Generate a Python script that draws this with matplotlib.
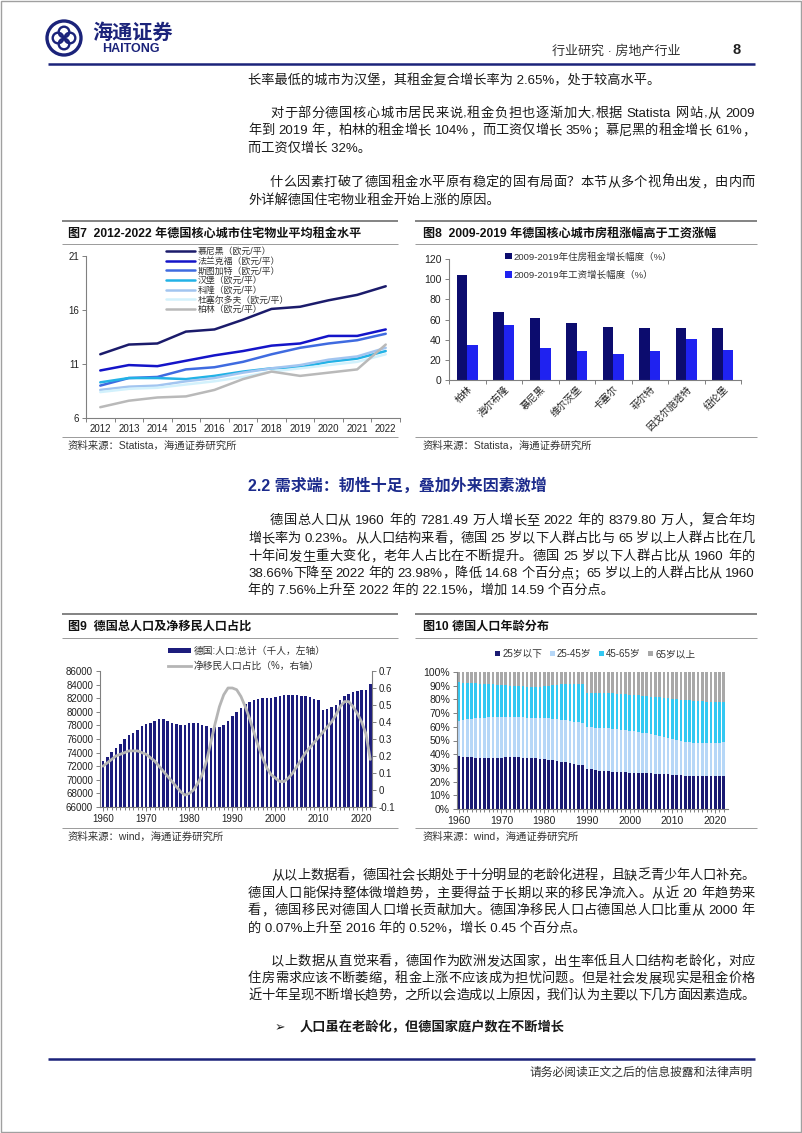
import re
import numpy as np
import matplotlib
matplotlib.use('Agg')
import matplotlib.pyplot as plt
from matplotlib.patches import Circle, Rectangle, Patch
from matplotlib.lines import Line2D

plt.rcParams['font.family'] = ['Liberation Sans', 'Noto Sans CJK SC']
plt.rcParams['axes.unicode_minus'] = False

# ---------------- 数据 ----------------
rent_years = [2012, 2013, 2014, 2015, 2016, 2017, 2018, 2019, 2020, 2021, 2022]
rent_munich = [11.9, 12.8, 12.9, 14.0, 14.2, 15.1, 16.1, 16.3, 16.9, 17.4, 18.2]
rent_frankfurt = [10.4, 10.9, 10.8, 11.3, 11.8, 12.2, 12.7, 12.9, 13.6, 13.6, 14.2]
rent_stuttgart = [9.0, 9.7, 9.8, 10.5, 10.7, 11.2, 11.9, 12.5, 12.9, 13.2, 13.8]
rent_hamburg = [9.3, 9.7, 9.7, 9.6, 9.9, 10.3, 10.6, 10.7, 11.2, 11.5, 12.2]
rent_cologne = [8.6, 8.9, 9.0, 9.4, 9.7, 10.2, 10.6, 10.9, 11.4, 11.7, 12.5]
rent_duesseldorf = [8.4, 8.7, 8.8, 9.1, 9.4, 9.8, 10.3, 10.6, 10.9, 11.2, 11.9]
rent_berlin = [7.0, 7.6, 7.9, 8.0, 8.6, 9.6, 10.3, 9.9, 10.2, 10.5, 12.8]
rent_labels = ['慕尼黑（欧元/平）', '法兰克福（欧元/平）', '斯图加特（欧元/平）', '汉堡（欧元/平）',
               '科隆（欧元/平）', '杜塞尔多夫（欧元/平）', '柏林（欧元/平）']

cities8 = ['柏林', '海尔布隆', '慕尼黑', '维尔茨堡', '卡塞尔', '菲尔特', '因戈尔施塔特', '纽伦堡']
rent_growth = [104, 67, 61, 57, 53, 52, 52, 52]
wage_growth = [35, 55, 32, 29, 26, 29, 41, 30]

pop_years = list(range(1960, 2023))
population = [72815, 73377, 74025, 74714, 75318, 75964, 76601, 76951, 77294, 77909,
              78169, 78313, 78582, 78942, 78996, 78679, 78299, 78160, 78081, 78082,
              78289, 78408, 78335, 78122, 77855, 77685, 77713, 77718, 78031, 78645,
              79433, 80014, 80624, 81156, 81438, 81678, 81915, 82035, 82047, 82100,
              82212, 82350, 82488, 82534, 82516, 82469, 82376, 82266, 82110, 81902,
              81777, 80275, 80426, 80646, 80983, 81687, 82349, 82657, 82906, 83093,
              83161, 83197, 84079]
migration_share = [0.14, 0.16, 0.18, 0.20, 0.21, 0.22, 0.23, 0.23, 0.23, 0.22,
                   0.21, 0.19, 0.17, 0.14, 0.11, 0.08, 0.05, 0.02, -0.01, -0.03,
                   -0.02, 0.00, 0.04, 0.09, 0.17, 0.28, 0.39, 0.49, 0.56, 0.60,
                   0.60, 0.59, 0.55, 0.49, 0.42, 0.34, 0.26, 0.19, 0.13, 0.09,
                   0.07, 0.05, 0.05, 0.07, 0.10, 0.14, 0.18, 0.22, 0.25, 0.28,
                   0.31, 0.34, 0.37, 0.40, 0.44, 0.49, 0.52, 0.52, 0.49, 0.45,
                   0.40, 0.33, 0.18]

age_years = list(range(1960, 2023))
age_u25 = [38.7, 38.2, 37.9, 37.7, 37.5, 37.4, 37.3, 37.2, 37.2, 37.3,
           37.5, 37.7, 37.8, 37.8, 37.7, 37.5, 37.3, 37.1, 36.9, 36.7,
           36.4, 36.1, 35.7, 35.2, 34.6, 34.0, 33.4, 32.9, 32.4, 32.0,
           29.5, 28.9, 28.5, 28.1, 27.8, 27.5, 27.2, 27.0, 26.8, 26.7,
           26.6, 26.5, 26.4, 26.3, 26.2, 26.0, 25.8, 25.6, 25.4, 25.2,
           25.0, 24.7, 24.5, 24.3, 24.1, 24.0, 24.0, 24.0, 24.0, 24.0,
           24.0, 24.0, 23.98]
age_25_45 = [25.8, 26.8, 27.6, 28.3, 28.8, 29.1, 29.4, 29.6, 29.7, 29.7,
             29.5, 29.3, 29.2, 29.2, 29.2, 29.3, 29.4, 29.5, 29.6, 29.7,
             29.9, 30.0, 30.2, 30.4, 30.6, 30.8, 30.9, 30.9, 30.8, 30.6,
             30.1, 30.6, 30.9, 31.2, 31.4, 31.5, 31.5, 31.4, 31.2, 30.9,
             30.6, 30.3, 29.9, 29.5, 29.0, 28.6, 28.2, 27.7, 27.1, 26.5,
             26.0, 25.6, 25.2, 24.9, 24.7, 24.5, 24.3, 24.2, 24.1, 24.1,
             24.2, 24.5, 25.0]
age_45_65 = [27.9, 27.3, 26.6, 25.9, 25.4, 25.0, 24.6, 24.3, 24.0, 23.7,
             23.5, 23.3, 23.1, 22.9, 22.8, 22.7, 22.7, 22.7, 22.8, 23.0,
             23.3, 23.8, 24.4, 25.1, 25.8, 26.4, 27.0, 27.6, 28.2, 28.8,
             25.4, 25.5, 25.6, 25.6, 25.6, 25.6, 25.7, 25.8, 26.0, 26.2,
             26.3, 26.4, 26.6, 26.8, 27.1, 27.4, 27.7, 28.1, 28.6, 29.1,
             29.5, 29.9, 30.2, 30.4, 30.5, 30.5, 30.5, 30.4, 30.3, 30.1,
             29.9, 29.5, 28.87]
age_65p = [7.6, 7.7, 7.9, 8.1, 8.3, 8.5, 8.7, 8.9, 9.1, 9.3,
           9.5, 9.7, 9.9, 10.1, 10.3, 10.5, 10.6, 10.7, 10.7, 10.6,
           10.4, 10.1, 9.7, 9.3, 9.0, 8.8, 8.7, 8.6, 8.6, 8.6,
           15.0, 15.0, 15.0, 15.1, 15.2, 15.4, 15.6, 15.8, 16.0, 16.2,
           16.5, 16.8, 17.1, 17.4, 17.7, 18.0, 18.3, 18.6, 18.9, 19.2,
           19.5, 19.8, 20.1, 20.4, 20.7, 21.0, 21.2, 21.4, 21.6, 21.8,
           21.9, 22.0, 22.15]
age_labels = ['25岁以下', '25-45岁', '45-65岁', '65岁以上']

# ---------------- 页面 ----------------
W, H = 802, 1133
NAVY = '#1b237a'
TXT = '#1a1a1a'
GREY = '#8c8c8c'

fig = plt.figure(figsize=(W / 100, H / 100), dpi=100)
page = fig.add_axes([0, 0, 1, 1])
page.set_xlim(0, W)
page.set_ylim(H, 0)
page.axis('off')
renderer = fig.canvas.get_renderer()


def box(l, t, r, b):
    return [l / W, 1 - b / H, (r - l) / W, (b - t) / H]


def hline(y, x0, x1, color=GREY, lw=0.8):
    page.plot([x0, x1], [y, y], color=color, lw=lw, solid_capstyle='butt')


# 页面边框
page.add_patch(Rectangle((0.5, 0.5), W - 1.5, H - 1.5, fill=False, ec='#a0a0a0', lw=1))

# logo
page.add_patch(Circle((64, 38), 17, fill=False, ec=NAVY, lw=2.4))
for dx, dy in [(-6, 0), (6, 0), (0, -6), (0, 6)]:
    page.add_patch(Circle((64 + dx, 38 + dy), 5.3, fill=False, ec=NAVY, lw=1.7))
page.text(92, 33, '海通证券', fontsize=14.5, fontweight='bold', color=NAVY, va='center')
page.text(102, 49, 'HAITONG', fontsize=9, fontweight='bold', color=NAVY, va='center')
page.text(552, 52, '行业研究 · 房地产行业', fontsize=9.4, color='#333333', va='center')
page.text(737, 50, '8', fontsize=10.5, fontweight='bold', color='#222222', va='center', ha='center')
hline(64, 48, 755, color=NAVY, lw=1.8)

# 正文排版（两端对齐）
TOK = re.compile(r'[\x21-\x7e]+| +|[^\x21-\x7e ]')
_cache = {}


def adv(tk, size, weight):
    key = (tk, size, weight)
    if key not in _cache:
        def w(s):
            t = page.text(0, 0, s, fontsize=size, fontweight=weight)
            v = t.get_window_extent(renderer=renderer).width
            t.remove()
            return v
        _cache[key] = w('国' + tk + '国') - w('国国')
    return _cache[key]


def put_line(x, y, s, size=9.5, right=None, color=TXT, weight='normal'):
    base = y + 5
    if right is None:
        page.text(x, base, s, fontsize=size, color=color, fontweight=weight, va='baseline')
        return
    toks = TOK.findall(s)
    widths = []
    for tk in toks:
        if tk.strip() == '':
            widths.append(len(tk) * 0.278 * size * 100 / 72)
        else:
            widths.append(adv(tk, size, weight))
    extra = (right - x - sum(widths)) / max(len(toks) - 1, 1)
    cx = x
    for tk, wd in zip(toks, widths):
        if tk.strip():
            page.text(cx, base, tk, fontsize=size, color=color, fontweight=weight, va='baseline')
        cx += wd + extra


R = 755
put_line(248, 79, '长率最低的城市为汉堡，其租金复合增长率为 2.65%，处于较高水平。')
put_line(270, 112, '对于部分德国核心城市居民来说,租金负担也逐渐加大,根据 Statista 网站,从 2009', right=R)
put_line(248, 129, '年到 2019 年，柏林的租金增长 104%，而工资仅增长 35%；慕尼黑的租金增长 61%，', right=R)
put_line(248, 147, '而工资仅增长 32%。')
put_line(270, 181, '什么因素打破了德国租金水平原有稳定的固有局面？本节从多个视角出发，由内而', right=R)
put_line(248, 199, '外详解德国住宅物业租金开始上涨的原因。')

page.text(248, 486, '2.2 需求端：韧性十足，叠加外来因素激增', fontsize=11.5, fontweight='bold',
          color='#1c2b8c', va='center')
put_line(270, 519, '德国总人口从 1960 年的 7281.49 万人增长至 2022 年的 8379.80 万人，复合年均', right=R)
put_line(248, 537, '增长率为 0.23%。从人口结构来看，德国 25 岁以下人群占比与 65 岁以上人群占比在几', right=R)
put_line(248, 555, '十年间发生重大变化，老年人占比在不断提升。德国 25 岁以下人群占比从 1960 年的', right=R)
put_line(248, 572, '38.66%下降至 2022 年的 23.98%，降低 14.68 个百分点；65 岁以上的人群占比从 1960', right=R)
put_line(248, 590, '年的 7.56%上升至 2022 年的 22.15%，增加 14.59 个百分点。')

put_line(271, 874, '从以上数据看，德国社会长期处于十分明显的老龄化进程，且缺乏青少年人口补充。', right=R)
put_line(248, 892, '德国人口能保持整体微增趋势，主要得益于长期以来的移民净流入。从近 20 年趋势来', right=R)
put_line(248, 909, '看，德国移民对德国人口增长贡献加大。德国净移民人口占德国总人口比重从 2000 年', right=R)
put_line(248, 927, '的 0.07%上升至 2016 年的 0.52%，增长 0.45 个百分点。')
put_line(271, 960, '以上数据从直觉来看，德国作为欧洲发达国家，出生率低且人口结构老龄化，对应', right=R)
put_line(248, 977, '住房需求应该不断萎缩，租金上涨不应该成为担忧问题。但是社会发展现实是租金价格', right=R)
put_line(248, 994, '近十年呈现不断增长趋势，之所以会造成以上原因，我们认为主要以下几方面因素造成。', right=R)
page.text(275, 1028, '➢', fontsize=9, family=['DejaVu Sans'], color=TXT, va='center')
page.text(300, 1028, '人口虽在老龄化，但德国家庭户数在不断增长', fontsize=9.5, fontweight='bold',
          color=TXT, va='center')
hline(1059, 48, 755, color=NAVY, lw=1.8)
page.text(753, 1073, '请务必阅读正文之后的信息披露和法律声明', fontsize=8.5, color='#333333',
          va='center', ha='right')

# 图框线、标题、来源
for (x0, x1, top, sub, bot, title, src, tx) in [
        (62, 398, 221, 244, 437, '图7  2012-2022 年德国核心城市住宅物业平均租金水平', '资料来源：Statista，海通证券研究所', 68),
        (415, 757, 221, 244, 437, '图8  2009-2019 年德国核心城市房租涨幅高于工资涨幅', '资料来源：Statista，海通证券研究所', 423),
        (62, 398, 614, 638, 828, '图9  德国总人口及净移民人口占比', '资料来源：wind，海通证券研究所', 68),
        (415, 757, 614, 638, 828, '图10 德国人口年龄分布', '资料来源：wind，海通证券研究所', 423)]:
    hline(top, x0, x1, color='#7a7a7a', lw=1.3)
    hline(sub, x0, x1, color='#9a9a9a', lw=0.7)
    hline(bot, x0, x1, color='#9a9a9a', lw=0.7)
    page.text(tx, (top + sub) / 2 + 1, title, fontsize=8.7, fontweight='bold', color='#111111', va='center')
    page.text(tx, bot + 9, src, fontsize=7.5, color='#333333', va='center')


def style(ax, size, spines=('left', 'bottom')):
    for s in ['top', 'right', 'left', 'bottom']:
        ax.spines[s].set_visible(s in spines)
        ax.spines[s].set_color('#808080')
        ax.spines[s].set_linewidth(0.8)
    ax.tick_params(which='both', labelsize=size, labelcolor='#222222', color='#808080',
                   width=0.7, length=3, direction='out')
    ax.set_facecolor('none')


# ---- 图7 ----
ax7 = fig.add_axes(box(86, 256, 400, 418))
colors7 = ['#1b1b6b', '#1414c8', '#3f6be0', '#22b2e6', '#a2c5f0', '#d2f1fc', '#b9b9b9']
series7 = [rent_munich, rent_frankfurt, rent_stuttgart, rent_hamburg, rent_cologne, rent_duesseldorf, rent_berlin]
for vals, col, lab in zip(series7, colors7, rent_labels):
    ax7.plot(rent_years, vals, color=col, lw=1.8, label=lab, solid_capstyle='round')
ax7.set_xlim(2011.5, 2022.5)
ax7.set_ylim(6, 21)
ax7.set_yticks([6, 11, 16, 21])
ax7.set_xticks(rent_years)
ax7.set_xticks(np.arange(2011.5, 2023, 1), minor=True)
style(ax7, 7)
ax7.tick_params(axis='x', which='major', length=0, pad=4.5)
ax7.tick_params(axis='y', pad=2)
ax7.legend(loc='upper left', bbox_to_anchor=(166 / W, 1 - 247 / H), bbox_transform=fig.transFigure,
           frameon=False, fontsize=6.4, handlelength=3.3, handletextpad=0.25, labelspacing=0.08,
           borderaxespad=0, borderpad=0, labelcolor='#333333')

# ---- 图8 ----
ax8 = fig.add_axes(box(449, 259, 741, 380))
x8 = np.arange(len(cities8))
ax8.bar(x8 - 0.142, rent_growth, width=0.283, color='#0c0c6e', label='2009-2019年住房租金增长幅度（%）')
ax8.bar(x8 + 0.142, wage_growth, width=0.283, color='#1f22f0', label='2009-2019年工资增长幅度（%）')
ax8.set_xlim(-0.5, 7.5)
ax8.set_ylim(0, 120)
ax8.set_yticks(range(0, 121, 20))
ax8.set_xticks(x8)
ax8.set_xticks(np.arange(-0.5, 8, 1), minor=True)
ax8.set_xticklabels(cities8, rotation=45, ha='right', rotation_mode='anchor')
style(ax8, 7.5)
ax8.tick_params(axis='x', which='major', length=0, pad=3, labelsize=7)
ax8.tick_params(axis='y', pad=2.5)
ax8.legend(loc='upper left', bbox_to_anchor=(505 / W, 1 - 252 / H), bbox_transform=fig.transFigure,
           frameon=False, fontsize=6.8, handlelength=0.7, handleheight=0.7, handletextpad=0.15,
           labelspacing=1.0, borderaxespad=0, borderpad=0, labelcolor='#333333')

# ---- 图9 ----
ax9 = fig.add_axes(box(100, 671, 372, 807))
ax9.bar(pop_years, population, width=0.58, color='#1c1c7c')
ax9.set_xlim(1959.3, 2022.4)
ax9.set_ylim(66000, 86000)
ax9.set_yticks(range(66000, 86001, 2000))
ax9.set_xticks(range(1960, 2021, 10))
ax9.set_xticks(pop_years, minor=True)
style(ax9, 7)
ax9.tick_params(axis='x', which='minor', length=2)
ax9.tick_params(axis='x', which='major', pad=2)
ax9.tick_params(axis='y', pad=2)
ax9r = ax9.twinx()
ax9r.plot(pop_years, migration_share, color='#b5b5b5', lw=2.0, solid_capstyle='round')
ax9r.set_ylim(-0.1, 0.7)
ax9r.set_yticks([-0.1, 0, 0.1, 0.2, 0.3, 0.4, 0.5, 0.6, 0.7])
ax9r.set_yticklabels(['-0.1', '0', '0.1', '0.2', '0.3', '0.4', '0.5', '0.6', '0.7'])
style(ax9r, 7, spines=('right',))
ax9r.tick_params(axis='y', pad=1.5)
h9 = [Patch(facecolor='#1c1c7c'), Line2D([], [], color='#b5b5b5', lw=2.0)]
ax9r.legend(h9, ['德国:人口:总计（千人，左轴）', '净移民人口占比（%，右轴）'], loc='upper left',
            bbox_to_anchor=(168 / W, 1 - 646 / H), bbox_transform=fig.transFigure, frameon=False,
            fontsize=7, handlelength=2.4, handleheight=0.5, handletextpad=0.2, labelspacing=0.55,
            borderaxespad=0, borderpad=0, labelcolor='#333333')

# ---- 图10 ----
ax10 = fig.add_axes(box(457, 672, 728, 809))
colors10 = ['#1a1a72', '#b6d7f7', '#33c8f2', '#a8a8a8']
bottom = np.zeros(len(age_years))
for vals, col, lab in zip([age_u25, age_25_45, age_45_65, age_65p], colors10, age_labels):
    ax10.bar(age_years, vals, bottom=bottom, width=0.62, color=col, label=lab)
    bottom = bottom + np.array(vals)
ax10.set_xlim(1959.6, 2023.0)
ax10.set_ylim(0, 100)
ax10.set_yticks(range(0, 101, 10))
ax10.set_yticklabels([f'{v}%' for v in range(0, 101, 10)])
ax10.set_xticks(range(1960, 2021, 10))
ax10.set_xticks(age_years, minor=True)
style(ax10, 7.5)
ax10.tick_params(axis='x', which='minor', length=2)
ax10.tick_params(axis='x', which='major', pad=2)
ax10.tick_params(axis='y', pad=2)
ax10.legend(loc='upper left', bbox_to_anchor=(495 / W, 1 - 649 / H), bbox_transform=fig.transFigure,
            ncol=4, frameon=False, fontsize=7, handlelength=0.55, handleheight=0.55, handletextpad=0.2,
            columnspacing=0.75, borderaxespad=0, borderpad=0, labelcolor='#333333')

fig.savefig('out.png', dpi=100)
